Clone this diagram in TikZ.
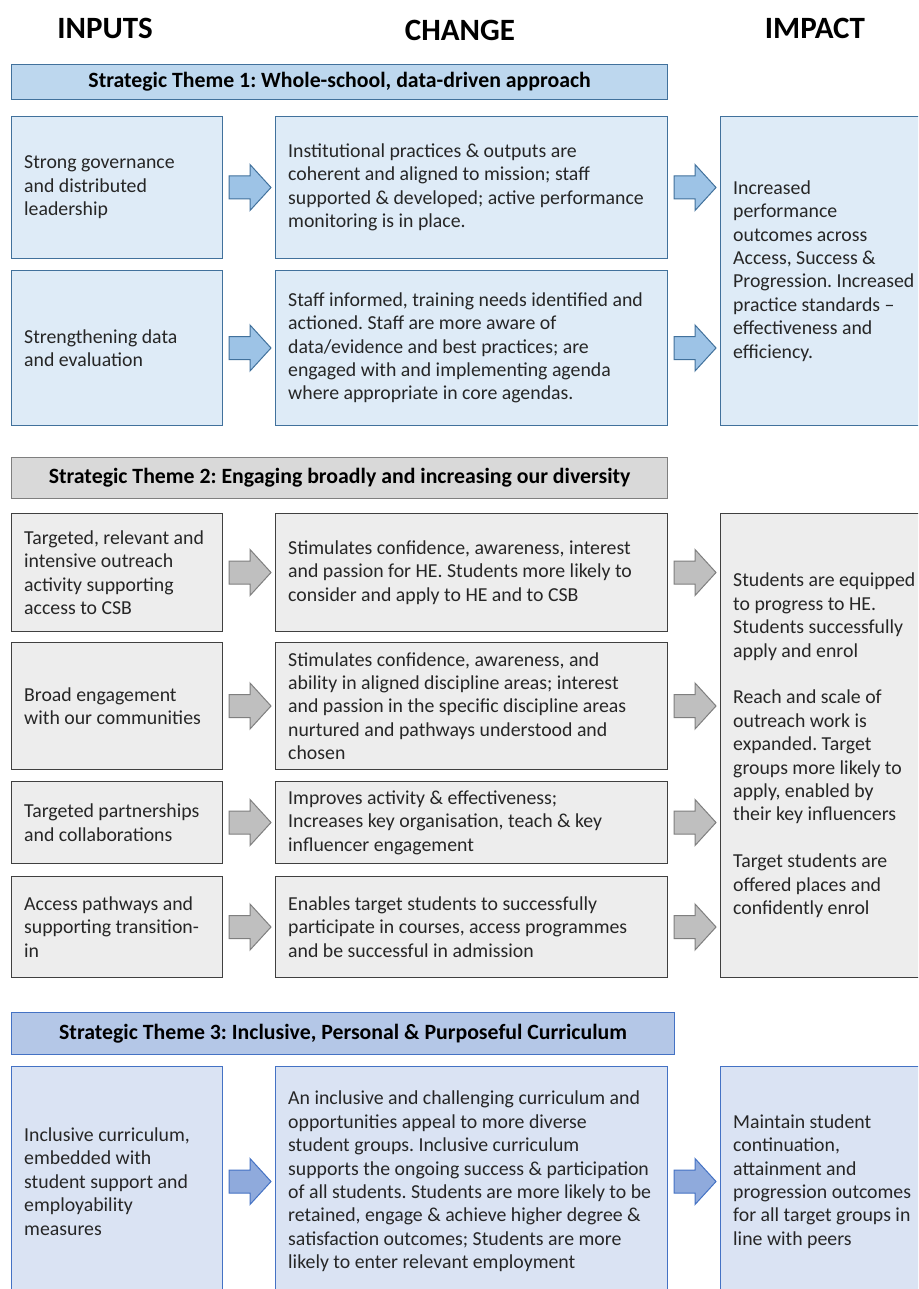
\documentclass[tikz,border=0pt]{standalone}
\usepackage{fontspec}
\setmainfont{Carlito}
\frenchspacing
\definecolor{txt}{HTML}{262626}
\definecolor{bBar}{HTML}{BDD7EE}
\definecolor{bBox}{HTML}{DEEBF7}
\definecolor{bLine}{HTML}{41719C}
\definecolor{bArr}{HTML}{9DC3E6}
\definecolor{gBar}{HTML}{D9D9D9}
\definecolor{gBox}{HTML}{EDEDED}
\definecolor{gLine}{HTML}{404040}
\definecolor{gBarLine}{HTML}{7F7F7F}
\definecolor{gArr}{HTML}{BFBFBF}
\definecolor{cBar}{HTML}{B4C7E7}
\definecolor{cBox}{HTML}{DAE3F3}
\definecolor{cLine}{HTML}{4472C4}
\definecolor{cArr}{HTML}{8FAADC}
\begin{document}
\begin{tikzpicture}[x=1pt,y=-1pt,
  box/.style={draw, line width=1pt, anchor=north west, inner sep=0pt},
  bluebox/.style={box, fill=bBox, draw=bLine},
  graybox/.style={box, fill=gBox, draw=gLine},
  crsbox/.style={box, fill=cBox, draw=cLine},
  bar/.style={draw, line width=1.2pt, anchor=north west, inner sep=0pt, minimum height=35pt, font=\fontsize{21.8}{24}\selectfont\bfseries, text=black},
  body/.style={anchor=west, inner sep=0pt, align=left, text=txt, font=\fontsize{19.8}{23.4}\selectfont},
  head/.style={inner sep=0pt, text=black, font=\fontsize{31}{34}\selectfont\bfseries},
  barrow/.style={line width=1pt, line join=miter},
  bluearr/.style={barrow, fill=bArr, draw=bLine},
  grayarr/.style={barrow, fill=gArr, draw=gBarLine},
  crsarr/.style={barrow, fill=cArr, draw=cLine}
]
\useasboundingbox (0,0) rectangle (918,1289);
\clip (0,0) rectangle (918,1289);
\fill[white] (0,0) rectangle (918,1289);

\newcommand\blockarrow[2]{%
  \draw[#2] ([xshift=6pt]#1.east) -- ++(0,11.5) -- ++(21,0) -- ++(0,11.5) -- ++(21,-23) -- ++(-21,-23) -- ++(0,11.5) -- ++(-21,0) -- cycle;}

% headers
\node[head] (hin) at (105,28) {INPUTS};
\node[head] (hch) at (460,30) {CHANGE};
\node[head] (him) at (815,28) {IMPACT};

% ---------- Theme 1
\node[bar, fill=bBar, draw=bLine, minimum width=656pt] (t1) at (11,64) {Strategic Theme 1: Whole-school, data-driven approach};

\node[bluebox, minimum width=211pt, minimum height=142pt] (i11) at (11,116) {};
\node[bluebox, minimum width=392pt, minimum height=142pt] (c11) at (275,116) {};
\node[bluebox, minimum width=220pt, minimum height=309pt] (m1) at (720,116) {};
\node[bluebox, minimum width=211pt, minimum height=155pt] (i12) at (11,270) {};
\node[bluebox, minimum width=392pt, minimum height=155pt] (c12) at (275,270) {};

\node[body] (ti11) at ([xshift=13pt]i11.west) {Strong governance\\and distributed\\leadership};
\node[body] (tc11) at ([xshift=13pt]c11.west) {Institutional practices \& outputs are\\coherent and aligned to mission; staff\\supported \& developed; active performance\\monitoring is in place.};
\node[body] (ti12) at ([xshift=13pt]i12.west) {Strengthening data\\and evaluation};
\node[body] (tc12) at ([xshift=13pt]c12.west) {Staff informed, training needs identified and\\actioned. Staff are more aware of\\data/evidence and best practices; are\\engaged with and implementing agenda\\where appropriate in core agendas.};
\node[body] (tm1) at ([xshift=13pt]m1.west) {Increased\\performance\\outcomes across\\Access, Success \&\\Progression. Increased\\practice standards –\\effectiveness and\\efficiency.};

\blockarrow{i11}{bluearr}
\blockarrow{c11}{bluearr}
\blockarrow{i12}{bluearr}
\blockarrow{c12}{bluearr}

% ---------- Theme 2
\node[bar, fill=gBar, draw=gBarLine, minimum width=656pt, minimum height=41pt] (t2) at (11,457) {Strategic Theme 2: Engaging broadly and increasing our diversity};

\node[graybox, minimum width=211pt, minimum height=118pt] (i21) at (11,513) {};
\node[graybox, minimum width=392pt, minimum height=118pt] (c21) at (275,513) {};
\node[graybox, minimum width=211pt, minimum height=127pt] (i22) at (11,642) {};
\node[graybox, minimum width=392pt, minimum height=127pt] (c22) at (275,642) {};
\node[graybox, minimum width=211pt, minimum height=82pt] (i23) at (11,781) {};
\node[graybox, minimum width=392pt, minimum height=82pt] (c23) at (275,781) {};
\node[graybox, minimum width=211pt, minimum height=101pt] (i24) at (11,876) {};
\node[graybox, minimum width=392pt, minimum height=101pt] (c24) at (275,876) {};
\node[graybox, minimum width=220pt, minimum height=464pt] (m2) at (720,513) {};

\node[body] (ti21) at ([xshift=13pt]i21.west) {Targeted, relevant and\\intensive outreach\\activity supporting\\access to CSB};
\node[body] (tc21) at ([xshift=13pt]c21.west) {Stimulates confidence, awareness, interest\\and passion for HE. Students more likely to\\consider and apply to HE and to CSB};
\node[body] (ti22) at ([xshift=13pt]i22.west) {Broad engagement\\with our communities};
\node[body] (tc22) at ([xshift=13pt]c22.west) {Stimulates confidence, awareness, and\\ability in aligned discipline areas; interest\\and passion in the specific discipline areas\\nurtured and pathways understood and\\chosen};
\node[body] (ti23) at ([xshift=13pt]i23.west) {Targeted partnerships\\and collaborations};
\node[body] (tc23) at ([xshift=13pt]c23.west) {Improves activity \& effectiveness;\\Increases key organisation, teach \& key\\influencer engagement};
\node[body] (ti24) at ([xshift=13pt]i24.west) {Access pathways and\\supporting transition-\\in};
\node[body] (tc24) at ([xshift=13pt]c24.west) {Enables target students to successfully\\participate in courses, access programmes\\and be successful in admission};
\node[body] (tm2) at ([xshift=13pt]m2.west) {Students are equipped\\to progress to HE.\\Students successfully\\apply and enrol\\[23.4pt]Reach and scale of\\outreach work is\\expanded. Target\\groups more likely to\\apply, enabled by\\their key influencers\\[23.4pt]Target students are\\offered places and\\confidently enrol};

\blockarrow{i21}{grayarr}
\blockarrow{c21}{grayarr}
\blockarrow{i22}{grayarr}
\blockarrow{c22}{grayarr}
\blockarrow{i23}{grayarr}
\blockarrow{c23}{grayarr}
\blockarrow{i24}{grayarr}
\blockarrow{c24}{grayarr}

% ---------- Theme 3
\node[bar, fill=cBar, draw=cLine, minimum width=663pt, minimum height=42pt] (t3) at (11,1012) {Strategic Theme 3: Inclusive, Personal \& Purposeful Curriculum};

\node[crsbox, minimum width=211pt, minimum height=230pt] (i31) at (11,1066) {};
\node[crsbox, minimum width=392pt, minimum height=230pt] (c31) at (275,1066) {};
\node[crsbox, minimum width=220pt, minimum height=230pt] (m3) at (720,1066) {};

\node[body] (ti31) at ([xshift=13pt]i31.west) {Inclusive curriculum,\\embedded with\\student support and\\employability\\measures};
\node[body] (tc31) at ([xshift=13pt]c31.west) {An inclusive and challenging curriculum and\\opportunities appeal to more diverse\\student groups. Inclusive curriculum\\supports the ongoing success \& participation\\of all students. Students are more likely to be\\retained, engage \& achieve higher degree \&\\satisfaction outcomes; Students are more\\likely to enter relevant employment};
\node[body] (tm3) at ([xshift=13pt]m3.west) {Maintain student\\continuation,\\attainment and\\progression outcomes\\for all target groups in\\line with peers};

\blockarrow{i31}{crsarr}
\blockarrow{c31}{crsarr}
\end{tikzpicture}
\end{document}
